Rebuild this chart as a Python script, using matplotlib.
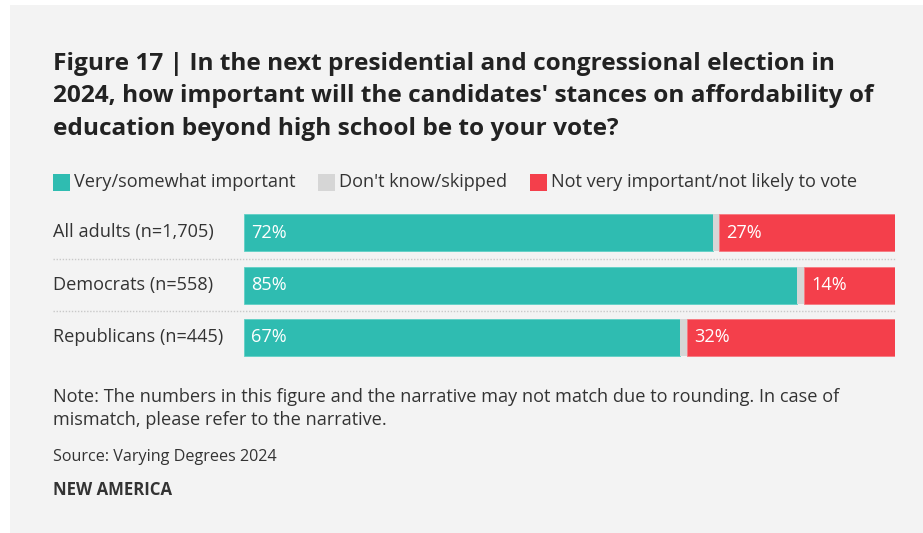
import matplotlib.pyplot as plt
from matplotlib.patches import Rectangle

# survey data
groups = ["All adults (n=1,705)", "Democrats (n=558)", "Republicans (n=445)"]
important = [72, 85, 67]
dont_know = [1, 1, 1]
not_important = [27, 14, 32]
series_names = ["Very/somewhat important", "Don't know/skipped",
                "Not very important/not likely to vote"]

title = ("Figure 17 | In the next presidential and congressional election in\n"
         "2024, how important will the candidates' stances on affordability of\n"
         "education beyond high school be to your vote?")
note = ("Note: The numbers in this figure and the narrative may not match due to rounding. In case of\n"
        "mismatch, please refer to the narrative.")
source = "Source: Varying Degrees 2024"
brand = "NEW AMERICA"

TEAL = "#2fbcb1"
GRAY = "#d6d6d6"
RED = "#f43f4b"
BG = "#f3f3f3"
TXT = "#333333"
FONT = "Open Sans"
BODY = 13.1

W, H = 923, 533
fig = plt.figure(figsize=(W / 100, H / 100), dpi=100)
fig.patch.set_facecolor("white")
# light panel behind everything
fig.patches.append(Rectangle((10 / W, 0), 1, 1 - 5 / H, transform=fig.transFigure,
                             facecolor=BG, edgecolor="none", zorder=-10))


def fx(px):
    return px / W


def fy(py):
    return 1 - py / H


fig.text(fx(53), fy(52), title, fontsize=17.6, fontweight="bold", color="#222222",
         family=FONT, va="top", ha="left", linespacing=1.46)

# legend row
leg_x = [53, 318, 530]
for x0, name, c in zip(leg_x, series_names, [TEAL, GRAY, RED]):
    fig.patches.append(Rectangle((fx(x0), fy(191)), 17 / W, 17 / H,
                                 transform=fig.transFigure, facecolor=c,
                                 edgecolor="none", zorder=2))
    fig.text(fx(x0 + 21), fy(182), name, fontsize=BODY, color=TXT, family=FONT,
             va="center", ha="left")

# bar area
top_px, bot_px = 206.25, 363.75
ax = fig.add_axes([fx(244), fy(bot_px), (895 - 244) / W, (bot_px - top_px) / H])
ax.set_facecolor("none")
ax.set_xlim(0, 100)
ax.set_ylim(len(groups) - 0.5, -0.5)
ax.axis("off")

rows = range(len(groups))
h = 37 / 52.5
ax.barh(rows, important, height=h, color=TEAL, edgecolor="#5fd0c6", linewidth=0.6)
ax.barh(rows, dont_know, left=important, height=h, color=GRAY, edgecolor="none")
left_red = [a + b for a, b in zip(important, dont_know)]
ax.barh(rows, not_important, left=left_red, height=h, color=RED,
        edgecolor="#f77880", linewidth=0.6)

lab_off = 1.1
for i in rows:
    ax.text(lab_off, i, f"{important[i]}%", color="white", fontsize=BODY,
            family=FONT, va="center", ha="left")
    ax.text(left_red[i] + lab_off, i, f"{not_important[i]}%", color="white",
            fontsize=BODY, family=FONT, va="center", ha="left")
    ax.text(-191 / 651, i, groups[i], transform=ax.get_yaxis_transform(),
            color=TXT, fontsize=BODY, family=FONT, va="center", ha="left")

# dotted separators between rows
for y in [0.5, 1.5]:
    ax.axhline(y, xmin=-191 / 651, xmax=1, color="#c9c9c9", linewidth=1,
               linestyle=(0, (1, 1.2)), clip_on=False)

fig.text(fx(53), fy(388), note, fontsize=BODY, color=TXT, family=FONT,
         va="top", ha="left", linespacing=1.36)
fig.text(fx(53), fy(457), source, fontsize=11.6, color=TXT, family=FONT,
         va="center", ha="left")
fig.text(fx(53), fy(490), brand, fontsize=12.1, fontweight="bold", color="#333333",
         family=FONT, va="center", ha="left")

fig.savefig("out.png", dpi=100, facecolor=fig.get_facecolor())
